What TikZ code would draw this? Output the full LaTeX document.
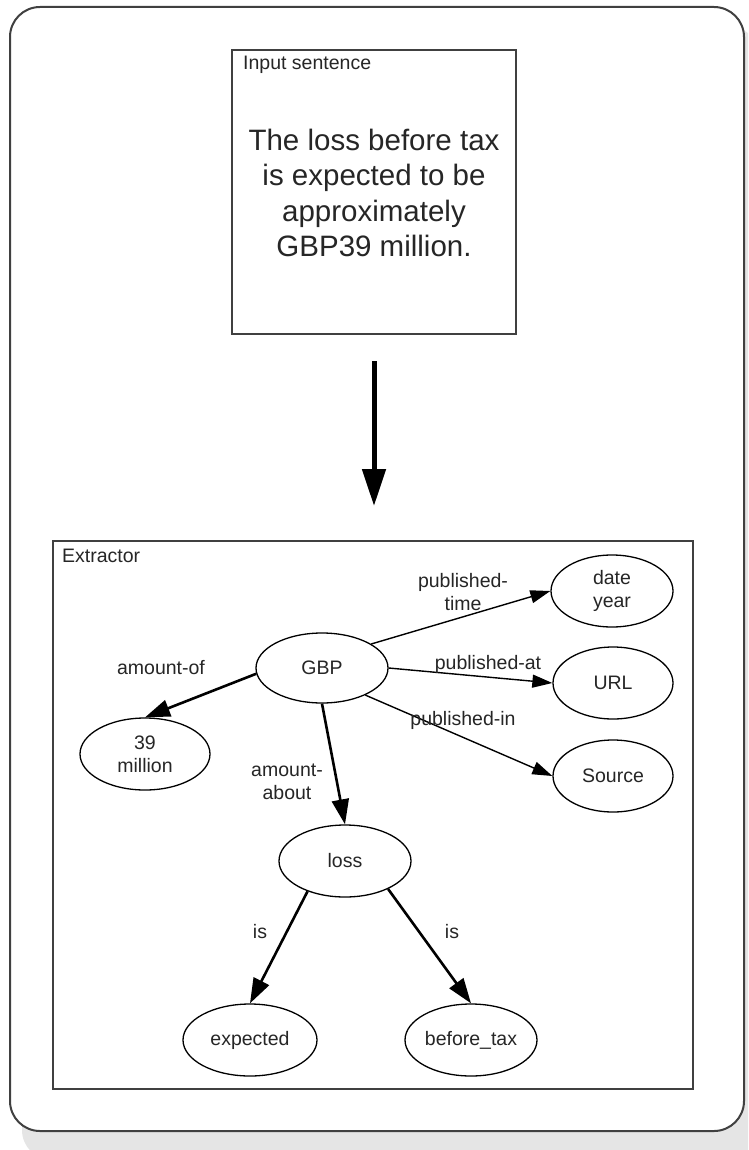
\documentclass[tikz,border=0pt]{standalone}
\usepackage{fontspec}
\setmainfont{Liberation Sans}
\usetikzlibrary{shapes.geometric,arrows.meta}

\newcommand\edgefont{\fontsize{19.5}{23}\selectfont}
\newcommand\bigfont{\fontsize{29.5}{35.5}\selectfont}

\begin{document}
\begin{tikzpicture}[x=1pt,y=-1pt,
  every node/.style={text=black!85},
  frame/.style={draw=black!75, line width=2pt, fill=white, inner sep=0pt},
  ent/.style={ellipse, draw=black, line width=1.3pt, inner sep=0pt,
    align=center, font=\edgefont},
  rel/.style={font=\edgefont, inner sep=0pt, anchor=base},
  relmulti/.style={font=\edgefont, inner sep=0pt, align=center},
  boldedge/.style={line width=2.6pt, -{Triangle[length=25pt,width=17pt]}},
  thinedge/.style={line width=1.4pt, -{Triangle[length=20pt,width=13pt]}},
  bigarrow/.style={line width=5pt, -{Triangle[length=37pt,width=23pt]}}
]
\useasboundingbox (0,0) rectangle (748,1150);

% drop shadow of the outer panel
\begin{scope}
  \clip (0,0) rectangle (748,1150);
  \fill[black!10, rounded corners=30pt] (22,27) rectangle (760,1160);
\end{scope}

% outer panel
\node[frame, rounded corners=30pt, minimum width=734pt, minimum height=1124pt]
  (panel) at (377,569) {};

% input sentence box
\node[frame, minimum width=284pt, minimum height=284pt] (inbox) at (374,192) {};
\node[font=\edgefont, inner sep=0pt, anchor=base west] (intitle) at (243,70) {Input sentence};
\node[font=\bigfont, align=center, inner sep=0pt] (sentence) at (374,193)
  {The loss before tax\\is expected to be\\approximately\\GBP39 million.};

% extractor box
\node[frame, minimum width=640pt, minimum height=548pt] (extbox) at (373,815) {};
\node[font=\edgefont, inner sep=0pt, anchor=base west] (exttitle) at (62,562) {Extractor};

% flow from the sentence to the extractor
\draw[bigarrow, shorten <=26pt, shorten >=34pt] (inbox.south) -- (inbox.south |- extbox.north);

% entity graph
\node[ent, minimum width=132pt, minimum height=70pt] (gbp)  at (322,668) {GBP};
\node[ent, minimum width=130pt, minimum height=72pt] (m39)  at (145,754) {39\\million};
\node[ent, minimum width=122pt, minimum height=72pt] (date) at (612,591) {date\\year};
\node[ent, minimum width=120pt, minimum height=72pt] (url)  at (613,683) {URL};
\node[ent, minimum width=120pt, minimum height=72pt] (src)  at (613,776) {Source};
\node[ent, minimum width=132pt, minimum height=72pt] (loss) at (345,861) {loss};
\node[ent, minimum width=134pt, minimum height=72pt] (exp)  at (250,1040) {expected};
\node[ent, minimum width=132pt, minimum height=72pt] (bt)   at (471,1040) {before\_tax};

\draw[boldedge] (gbp.185) -- (m39.north);
\draw[boldedge] (gbp.south) -- (loss.north);
\draw[thinedge] (gbp.26) -- (date.west);
\draw[thinedge] (gbp.east) -- (url.west);
\draw[thinedge] (gbp.-32) -- (src.west);
\draw[boldedge] (loss.219) -- (exp.north);
\draw[boldedge] (loss.-33) -- (bt.north);

% relation labels
\node[rel] (lamountof) at (161,674) {amount-of};
\node[relmulti] (lamountabout) at (287,782) {amount-\\about};
\node[relmulti] (ltime) at (463,592) {published-\\time};
\node[rel] (lat) at (488,669) {published-at};
\node[rel] (lin) at (463,725) {published-in};
\node[rel] (lis1) at (260,938) {is};
\node[rel] (lis2) at (452,938) {is};
\end{tikzpicture}
\end{document}
